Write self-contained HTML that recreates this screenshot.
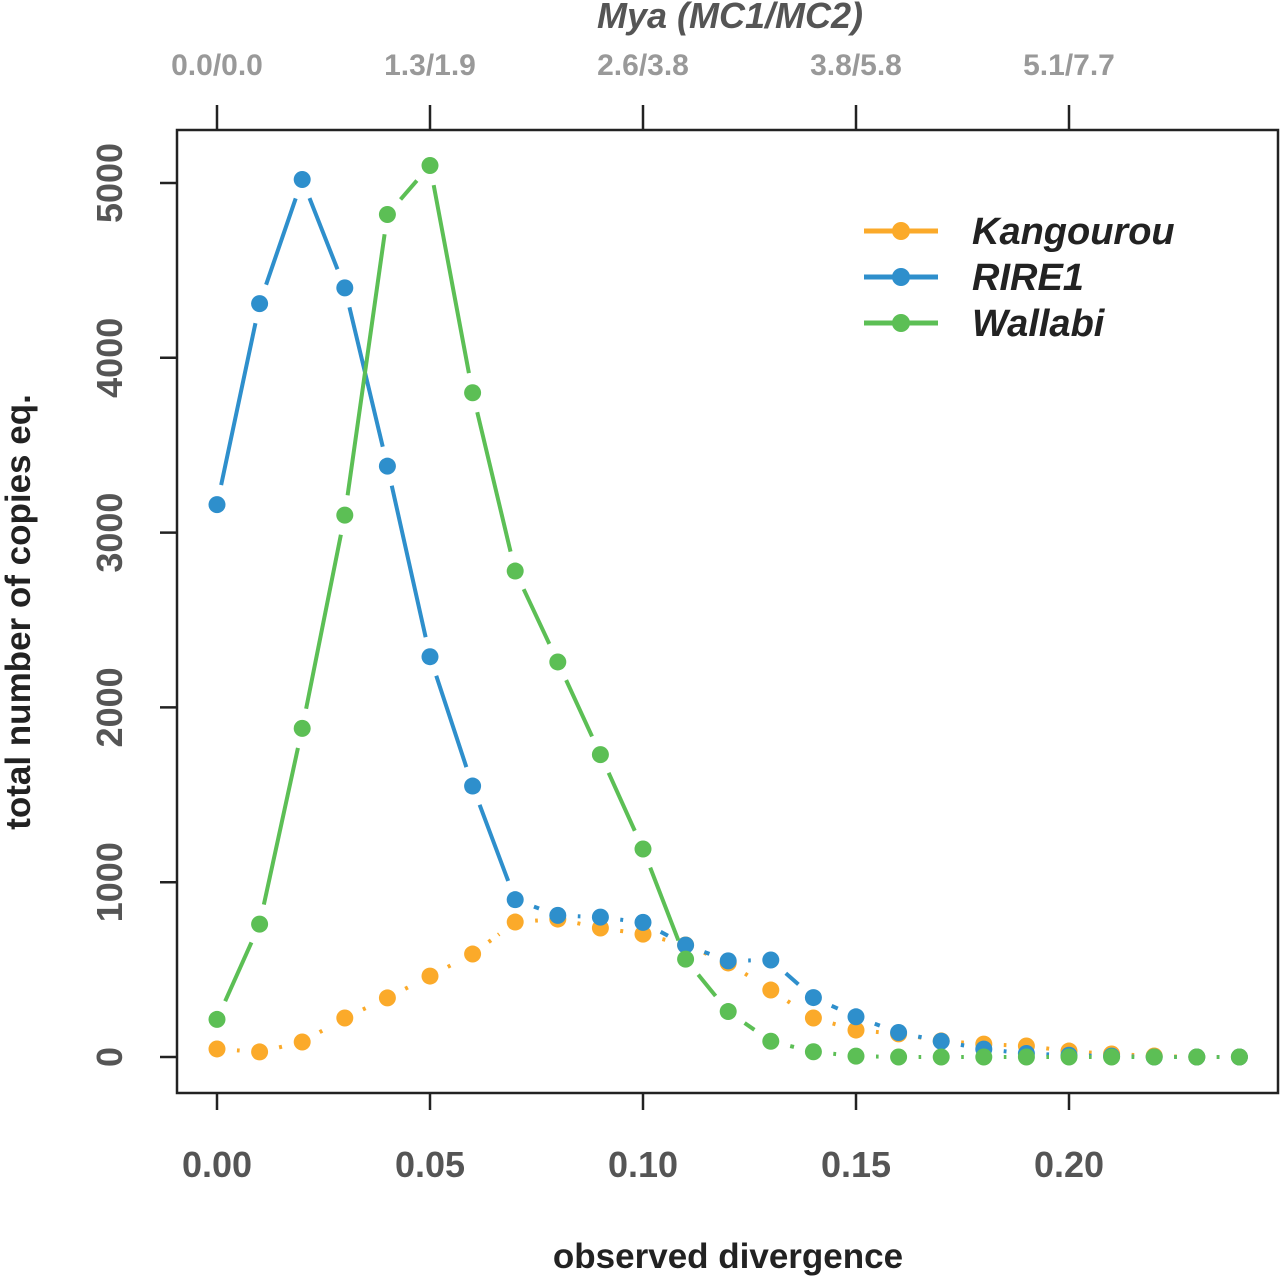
<!DOCTYPE html>
<html><head><meta charset="utf-8"><style>
html,body{margin:0;padding:0;background:#fff;}
svg{display:block;font-family:"Liberation Sans",Arial,sans-serif;}
</style></head><body>
<svg id="chart" width="1280" height="1278">
<rect x="177" y="130" width="1101" height="963" fill="none" stroke="#222" stroke-width="2.5"/>
<g id="axes"></g>
<g id="series"></g>
<g id="legend"></g>
<text x="728" y="1268" text-anchor="middle" font-size="35" font-weight="bold" fill="#222">observed divergence</text>
<text transform="translate(30,612) rotate(-90)" text-anchor="middle" font-size="35" font-weight="bold" fill="#222">total number of copies eq.</text>
<text x="730" y="28" text-anchor="middle" font-size="36" font-weight="bold" font-style="italic" fill="#555">Mya (MC1/MC2)</text>
</svg>
<script>
const divergence = [0,0.01,0.02,0.03,0.04,0.05,0.06,0.07,0.08,0.09,0.10,0.11,0.12,0.13,0.14,0.15,0.16,0.17,0.18,0.19,0.20,0.21,0.22,0.23,0.24];
const kangourou = [46,29,86,223,338,463,589,772,789,738,703,641,538,383,223,154,132,92,74,63,34,17,6,0,0];
const rire1 = [3160,4310,5020,4400,3380,2290,1550,900,810,800,770,640,550,555,340,230,140,90,45,20,10,5,0,0,0];
const wallabi = [215,760,1880,3100,4820,5100,3800,2780,2260,1730,1190,560,260,90,30,5,0,0,0,0,0,0,0,0,0];
const xTicks = [0,0.05,0.10,0.15,0.20];
const xTickLabels = ["0.00","0.05","0.10","0.15","0.20"];
const topTickLabels = ["0.0/0.0","1.3/1.9","2.6/3.8","3.8/5.8","5.1/7.7"];
const yTicks = [0,1000,2000,3000,4000,5000];
const seriesNames = ["Kangourou","RIRE1","Wallabi"];
const seriesColors = ["#FBAA2A","#2E8FCC","#5CBF55"];

const NS="http://www.w3.org/2000/svg";
const xs = v => 217 + v*4260;
const ys = v => 1057 - v*0.1748;
function mk(tag, attrs, parent){const e=document.createElementNS(NS,tag);for(const k in attrs)e.setAttribute(k,attrs[k]);parent.appendChild(e);return e;}
const axes=document.getElementById('axes');
xTicks.forEach((t,i)=>{
  const x=xs(t);
  const l=mk('line',{x1:x,x2:x,y1:1093,y2:1110,stroke:'#222','stroke-width':2.5},axes);
  
  
  const tx=mk('text',{x:x,y:1177,'text-anchor':'middle','font-size':36,'font-weight':'bold',fill:'#555'},axes);
  tx.textContent=xTickLabels[i];
  
  
  const l2=mk('line',{x1:x,x2:x,y1:105,y2:130,stroke:'#222','stroke-width':2.5},axes);
  
  
  const t2=mk('text',{x:x,y:75,'text-anchor':'middle','font-size':30,'font-weight':'bold',fill:'#999'},axes);
  t2.textContent=topTickLabels[i];
  
  
});
yTicks.forEach(t=>{
  const y=ys(t);
  const l=mk('line',{x1:160,x2:177,y1:y,y2:y,stroke:'#222','stroke-width':2.5},axes);
  
  
  const tx=mk('text',{transform:`translate(122,${y}) rotate(-90)`,'text-anchor':'middle','font-size':36,'font-weight':'bold',fill:'#555'},axes);
  tx.textContent=String(t);
  
  
});
const seriesG=document.getElementById('series');
const allData=[kangourou,rire1,wallabi];
const dashes=["3,9,14,9","none","none"];
const gap=20;
allData.forEach((d,si)=>{
  const g=mk('g',{},seriesG);
  
  
  for(let i=0;i<d.length-1;i++){
    const x1=xs(divergence[i]),y1=ys(d[i]),x2=xs(divergence[i+1]),y2=ys(d[i+1]);
    const L=Math.hypot(x2-x1,y2-y1);
    if(L<=2*gap+2)continue;
    const ux=(x2-x1)/L,uy=(y2-y1)/L;
    const seg=mk('line',{x1:x1+ux*gap,y1:y1+uy*gap,x2:x2-ux*gap,y2:y2-uy*gap,stroke:seriesColors[si],'stroke-width':4,'stroke-dasharray':dashes[si]},g);
    
    
  }
  d.forEach((v,i)=>{
    const c=mk('circle',{cx:xs(divergence[i]),cy:ys(v),r:8.5,fill:seriesColors[si]},g);
    
    
  });
});
const lg=document.getElementById('legend');
seriesNames.forEach((n,i)=>{
  const y=231+i*46;
  const l=mk('line',{x1:864,x2:938,y1:y,y2:y,stroke:seriesColors[i],'stroke-width':5},lg);
  
  
  const c=mk('circle',{cx:901,cy:y,r:9,fill:seriesColors[i]},lg);
  
  
  const t=mk('text',{x:972,y:y+13,'font-size':38,'font-weight':'bold','font-style':'italic',fill:'#222'},lg);
  t.textContent=n;
  
  
});
</script>
</body></html>
